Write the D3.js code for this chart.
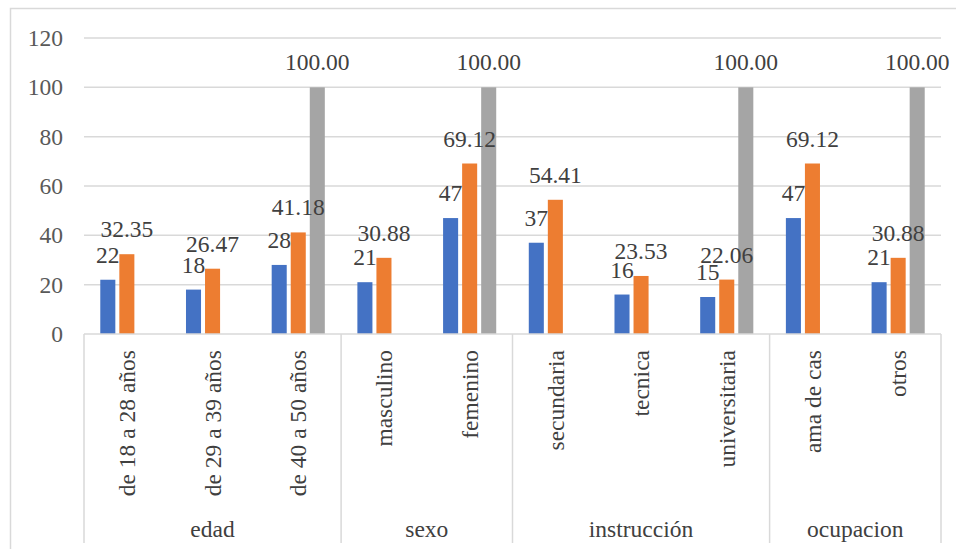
<!DOCTYPE html>
<html>
<head>
<meta charset="utf-8">
<script src="https://cdn.jsdelivr.net/npm/d3@7"></script>
</head>
<body style="margin:0">
<svg id="chart" width="956" height="549"></svg>
<script>
const categories = ["de 18 a 28 años", "de 29 a 39 años", "de 40 a 50 años", "masculino", "femenino",
  "secundaria", "tecnica", "universitaria", "ama de cas", "otros"];
const groupNames = ["edad", "sexo", "instrucción", "ocupacion"];
const groupSizes = [3, 2, 3, 2];
const seriesNames = ["n", "%", "total"];
const countValues = [22, 18, 28, 21, 47, 37, 16, 15, 47, 21];
const percentValues = [32.35, 26.47, 41.18, 30.88, 69.12, 54.41, 23.53, 22.06, 69.12, 30.88];
const totalValues = [null, null, 100, null, 100, null, null, 100, null, 100];
const yTicks = [0, 20, 40, 60, 80, 100, 120];
const seriesColors = ["#4472C4", "#ED7D31", "#A5A5A5"];
const labelFormats = [d3.format("d"), d3.format(".2f"), d3.format(".2f")];

const FONT = "Liberation Serif, Tinos, Times New Roman, Times, DejaVu Serif, Noto Serif, FreeSerif, serif";
const FS = 23.5;
const svg = d3.select("#chart").attr("font-family", FONT);
const plotLeft = 84, plotRight = 941, plotTop = 38, plotBottom = 334;

const x = d3.scaleBand().domain(categories).range([plotLeft, plotRight]).padding(0);
const bw = x.bandwidth();
const x1 = d3.scaleBand().domain(seriesNames).range([bw * 0.19, bw * 0.81]).paddingInner(0.21);
const y = d3.scaleLinear().domain([0, 120]).range([plotBottom, plotTop]);

function styleText(sel, color) {
  return sel.attr("font-family", FONT).style("font-family", FONT)
    .attr("font-size", FS).attr("fill", color);
}

svg.append("rect").attr("x", 10.5).attr("y", 8.5).attr("width", 980).attr("height", 580)
  .attr("fill", "none").attr("stroke", "#d9d9d9").attr("stroke-width", 1.5);

svg.append("g").selectAll("line").data(yTicks.filter(t => t > 0)).join("line")
  .attr("x1", plotLeft).attr("x2", plotRight)
  .attr("y1", d => y(d)).attr("y2", d => y(d))
  .attr("stroke", "#d9d9d9").attr("stroke-width", 1.5);

const yAxis = d3.axisLeft(y).tickValues(yTicks).tickSize(0).tickPadding(0);
const yg = svg.append("g").attr("transform", `translate(63,0)`).call(yAxis);
yg.attr("font-family", FONT).attr("font-size", FS);
yg.select(".domain").remove();
styleText(yg.selectAll("text"), "#595959").attr("x", 0);

const series = [countValues, percentValues, totalValues];
const barsG = svg.append("g");
const labelsG = svg.append("g");
series.forEach((vals, si) => {
  const data = categories.map((c, i) => ({ c, v: vals[i] })).filter(d => d.v != null);
  barsG.append("g").selectAll("rect").data(data).join("rect")
    .attr("x", d => x(d.c) + x1(seriesNames[si]))
    .attr("width", x1.bandwidth())
    .attr("y", d => y(d.v))
    .attr("height", d => y(0) - y(d.v))
    .attr("fill", seriesColors[si]);
  styleText(labelsG.append("g").selectAll("text").data(data).join("text")
    .attr("x", d => x(d.c) + x1(seriesNames[si]) + x1.bandwidth() / 2)
    .attr("y", d => y(d.v) - 17)
    .attr("text-anchor", "middle")
    .text(d => labelFormats[si](d.v)), "#404040");
});

svg.append("line").attr("x1", plotLeft).attr("x2", plotRight).attr("y1", plotBottom).attr("y2", plotBottom)
  .attr("stroke", "#d9d9d9").attr("stroke-width", 1.5);

let idx = 0;
const bounds = [plotLeft];
groupSizes.forEach(n => { idx += n; bounds.push(idx < categories.length ? x(categories[idx]) : plotRight); });
svg.append("g").selectAll("line").data(bounds).join("line")
  .attr("x1", d => d).attr("x2", d => d).attr("y1", plotBottom).attr("y2", 543)
  .attr("stroke", "#d9d9d9").attr("stroke-width", 1.5);

styleText(svg.append("g").selectAll("text").data(categories).join("text")
  .attr("transform", d => `translate(${x(d) + bw / 2},350) rotate(-90)`)
  .attr("text-anchor", "end")
  .attr("dy", "0.35em")
  .text(d => d), "#404040");

styleText(svg.append("g").selectAll("text").data(groupNames).join("text")
  .attr("x", (d, i) => (bounds[i] + bounds[i + 1]) / 2)
  .attr("y", 537)
  .attr("text-anchor", "middle")
  .text(d => d), "#404040");
</script>
</body>
</html>
